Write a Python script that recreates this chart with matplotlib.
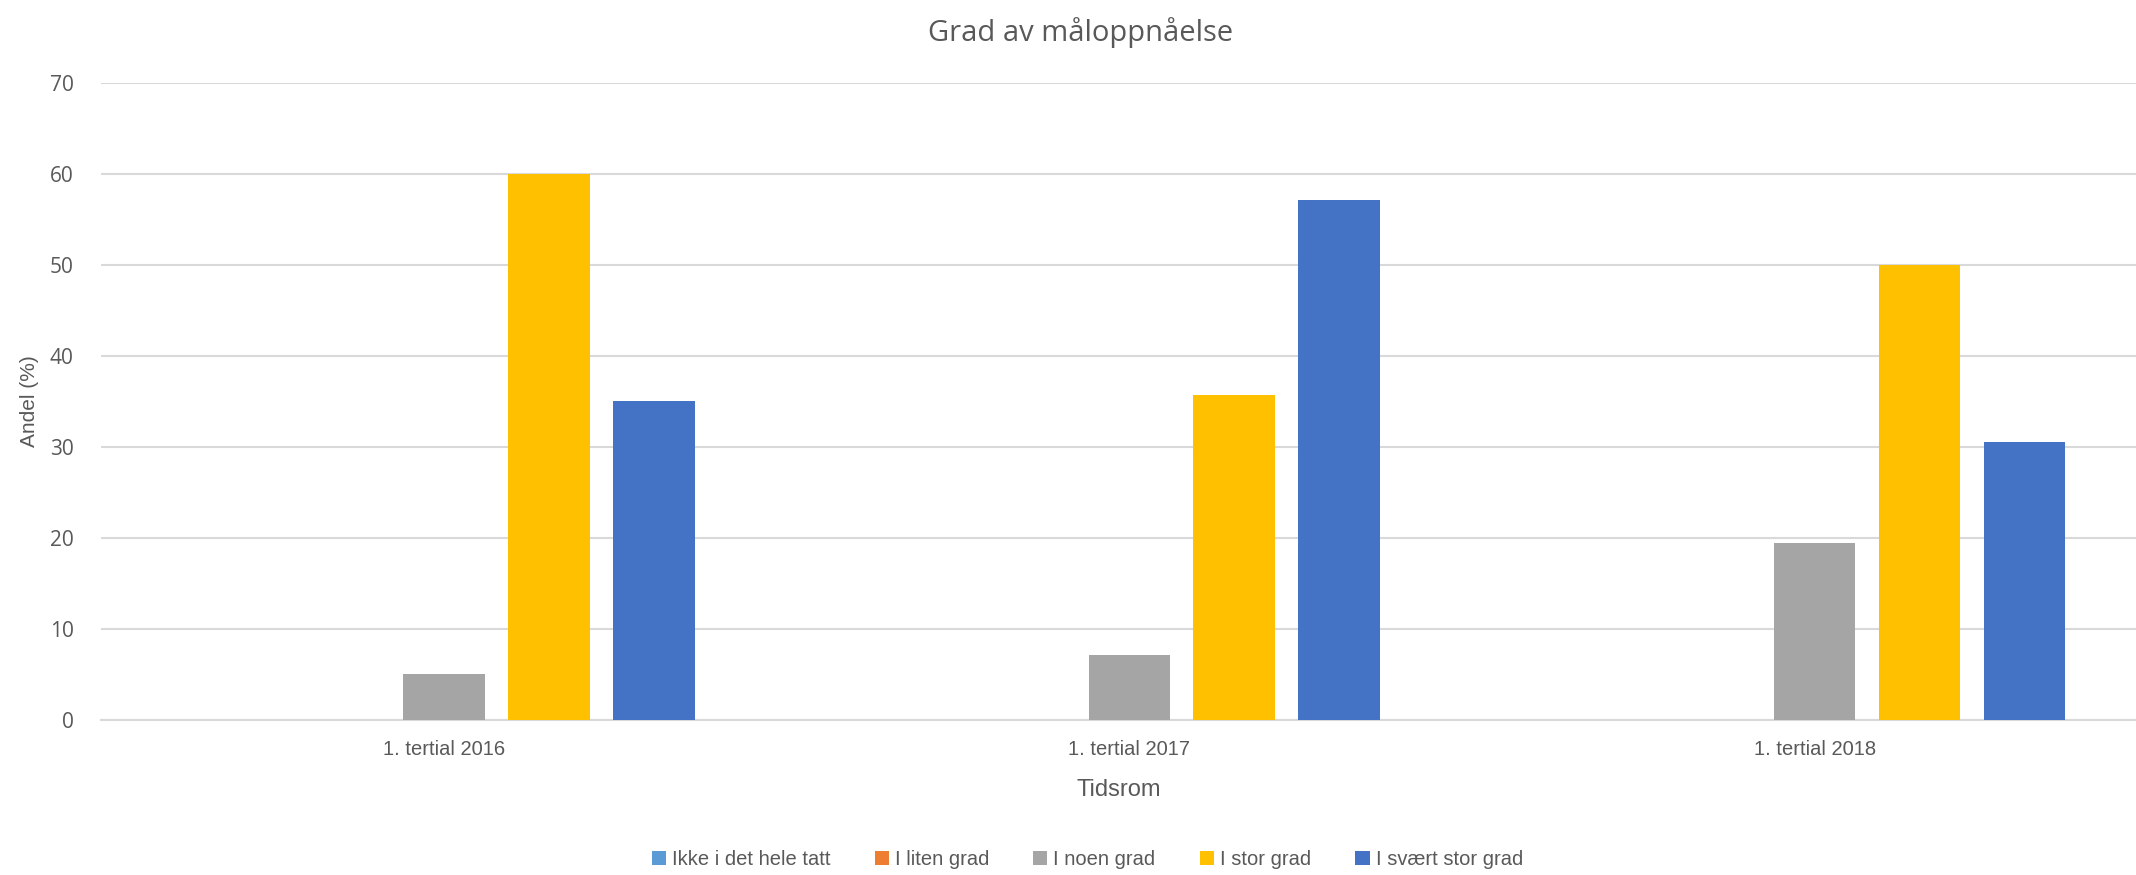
import matplotlib
matplotlib.use('Agg')
import matplotlib.pyplot as plt
import numpy as np

# ---- data ----
periods = ['1. tertial 2016', '1. tertial 2017', '1. tertial 2018']
series_names = ['Ikke i det hele tatt', 'I liten grad', 'I noen grad', 'I stor grad', 'I svært stor grad']
ikke_i_det_hele = [0, 0, 0]
i_liten_grad = [0, 0, 0]
i_noen_grad = [5.0, 7.14, 19.44]
i_stor_grad = [60.0, 35.71, 50.0]
i_svaert_stor_grad = [35.0, 57.14, 30.56]
yticks = [0, 10, 20, 30, 40, 50, 60, 70]

# ---- style ----
COLORS = ['#5B9BD5', '#ED7D31', '#A5A5A5', '#FFC000', '#4472C4']
TEXT_C, GRID_C = '#595959', '#D9D9D9'
NARROW = ['Liberation Sans Narrow', 'Liberation Sans', 'DejaVu Sans']
WIDE = ['Open Sans', 'DejaVu Sans']

fig = plt.figure(figsize=(21.36, 8.75), dpi=100)
ax = fig.add_axes([0.0475, 0.1776, 0.9525, 0.7274])

values = [ikke_i_det_hele, i_liten_grad, i_noen_grad, i_stor_grad, i_svaert_stor_grad]
x = np.arange(len(periods))
step, width = 0.153, 0.119
for i, (name, vals) in enumerate(zip(series_names, values)):
    ax.bar(x + (i - 2) * step, vals, width=width, color=COLORS[i], label=name, zorder=3)

ax.set_xlim(-0.5, 2.469)
ax.set_ylim(0, 70)
ax.set_yticks(yticks)
ax.set_xticks(x)
ax.set_xticklabels(periods, fontsize=14.5, color=TEXT_C, family=NARROW)
for lab in ax.get_yticklabels():
    lab.set_fontsize(15); lab.set_color(TEXT_C); lab.set_family(WIDE)
ax.tick_params(length=0)
ax.tick_params(axis='x', pad=15)
ax.tick_params(axis='y', pad=20)
ax.grid(axis='y', color=GRID_C, linewidth=1.5, zorder=0)
for s in ['top', 'right', 'left']:
    ax.spines[s].set_visible(False)
ax.spines['bottom'].set_color(GRID_C)
ax.spines['bottom'].set_linewidth(1.5)

ax.set_xlabel('Tidsrom', fontsize=17, color=TEXT_C, family=NARROW, labelpad=14)
ax.set_ylabel('Andel (%)', fontsize=15, color=TEXT_C, family=NARROW, labelpad=8)
fig.text(0.506, 0.963, 'Grad av måloppnåelse', ha='center', va='center',
         fontsize=21, color=TEXT_C, family=WIDE)

fig.legend(loc='center', bbox_to_anchor=(0.509, 0.018), ncol=5, frameon=False,
           prop={'family': NARROW, 'size': 14.5}, labelcolor=TEXT_C,
           handlelength=0.7, handleheight=0.7, handletextpad=0.3, columnspacing=2.2)

fig.savefig('out.png', dpi=100)
